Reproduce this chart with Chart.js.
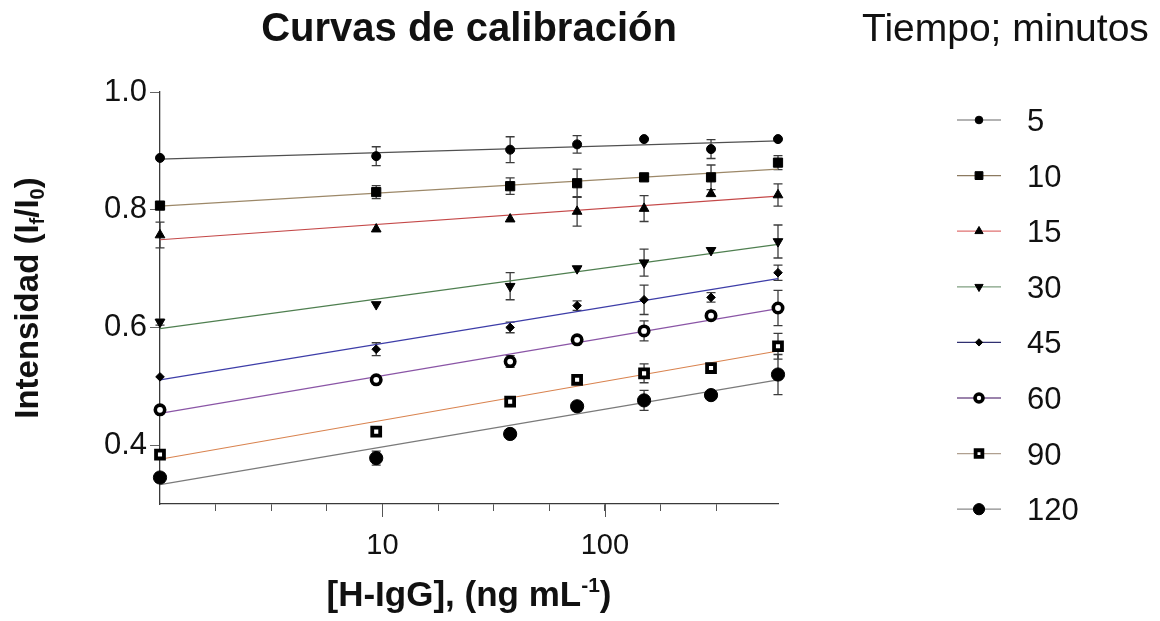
<!DOCTYPE html>
<html>
<head>
<meta charset="utf-8">
<title>Curvas de calibración</title>
<script src="https://cdn.jsdelivr.net/npm/chart.js@4.4.1/dist/chart.umd.min.js"></script>
<style>
    html, body { margin: 0; padding: 0; background: #ffffff; }
    canvas { display: block; }
</style>
</head>
<body>
<canvas id="curvas" width="1160" height="621"></canvas>
<script>
    // [H-IgG] en ng/mL (el blanco se grafica en 1)
    var concentraciones = [1, 9.375, 37.5, 75, 150, 300, 600];
    var tiempos = ['5', '10', '15', '30', '45', '60', '90', '120'];

    // intensidad If/I0 media y desviación por tiempo de incubación
    var int5 = [0.888, 0.891, 0.902, 0.911, 0.920, 0.903, 0.920];
    var err5 = [0, 0.016, 0.022, 0.015, 0, 0.016, 0];
    var int10 = [0.807, 0.830, 0.840, 0.845, 0.855, 0.855, 0.880];
    var err10 = [0.006, 0.011, 0.014, 0.024, 0, 0.021, 0.012];
    var int15 = [0.757, 0.767, 0.784, 0.797, 0.802, 0.827, 0.825];
    var err15 = [0.022, 0, 0, 0.025, 0.022, 0, 0.019];
    var int30 = [0.609, 0.639, 0.670, 0.700, 0.710, 0.731, 0.746];
    var err30 = [0.005, 0, 0.023, 0, 0.023, 0, 0.028];
    var int45 = [0.516, 0.563, 0.600, 0.637, 0.647, 0.651, 0.693];
    var err45 = [0, 0.011, 0.009, 0.008, 0.025, 0.008, 0.013];
    var int60 = [0.460, 0.511, 0.542, 0.579, 0.594, 0.620, 0.633];
    var err60 = [0, 0, 0.010, 0, 0.017, 0, 0.030];
    var int90 = [0.384, 0.423, 0.474, 0.511, 0.522, 0.531, 0.568];
    var err90 = [0.005, 0, 0, 0, 0.016, 0, 0.022];
    var int120 = [0.345, 0.378, 0.419, 0.466, 0.476, 0.485, 0.520];
    var err120 = [0.008, 0.012, 0, 0.008, 0.017, 0, 0.034];

    // rectas de regresión (log x): valor en el extremo izquierdo y derecho
    var ajusteInicio = [0.886, 0.806, 0.749, 0.598, 0.511, 0.454, 0.376, 0.333];
    var ajusteFin = [0.917, 0.869, 0.823, 0.741, 0.683, 0.632, 0.560, 0.511];

    var ticksY = [0.4, 0.6, 0.8, 1.0];
    var ticksX = [1.778, 3.162, 5.623, 10, 17.78, 31.62, 56.23, 100, 177.8, 316.2];
    var etiquetasX = [10, 100];

    var intensidades = [int5, int10, int15, int30, int45, int60, int90, int120];
    var errores = [err5, err10, err15, err30, err45, err60, err90, err120];

    var FUENTE = '"Liberation Sans", Arial, Helvetica, sans-serif';
    var TEXTO = '#111111';

    // marcador y color de recta de cada serie
    var estilos = [
        { forma: 'circle', radio: 4.5, relleno: '#000', borde: 1, rot: 0, color: '#505050', leyenda: '#9a9a9a' },
        { forma: 'rect', radio: 6.5, relleno: '#000', borde: 1, rot: 0, color: '#9c8868', leyenda: '#8c7a60' },
        { forma: 'triangle', radio: 5.6, relleno: '#000', borde: 1, rot: 0, color: '#c44848', leyenda: '#e07272' },
        { forma: 'triangle', radio: 5.6, relleno: '#000', borde: 1, rot: 180, color: '#4f7f50', leyenda: '#7f9f80' },
        { forma: 'rectRot', radio: 4.3, relleno: '#000', borde: 1, rot: 0, color: '#3d3da8', leyenda: '#303070' },
        { forma: 'circle', radio: 4.7, relleno: '#fff', borde: 3.6, rot: 0, color: '#8a55a6', leyenda: '#7a5a90' },
        { forma: 'rect', radio: 5.6, relleno: '#fff', borde: 3.8, rot: 0, color: '#d9834f', leyenda: '#b0a090' },
        { forma: 'circle', radio: 6.6, relleno: '#000', borde: 1, rot: 0, color: '#7a7a7a', leyenda: '#8a8a8a' }
    ];

    var datasets = [];

    // rectas de ajuste (debajo de los puntos)
    tiempos.forEach(function (t, s) {
        datasets.push({
            label: 'ajuste ' + t,
            data: [
                { x: concentraciones[0], y: ajusteInicio[s] },
                { x: concentraciones[concentraciones.length - 1], y: ajusteFin[s] }
            ],
            showLine: true,
            borderColor: estilos[s].color,
            borderWidth: 1.2,
            pointRadius: 0,
            pointHoverRadius: 0,
            clip: false,
            order: 2
        });
    });

    // puntos experimentales
    tiempos.forEach(function (t, s) {
        datasets.push({
            label: t,
            data: concentraciones.map(function (c, i) {
                return { x: c, y: intensidades[s][i] };
            }),
            errores: errores[s],
            showLine: false,
            pointStyle: estilos[s].forma,
            pointRadius: estilos[s].radio,
            pointHoverRadius: estilos[s].radio,
            pointRotation: estilos[s].rot,
            pointBackgroundColor: estilos[s].relleno,
            pointBorderColor: '#000',
            pointBorderWidth: estilos[s].borde,
            pointHoverBorderWidth: estilos[s].borde,
            clip: false,
            order: 1
        });
    });

    function textoCompuesto(ctx, partes, x, y, centrado) {
        var ancho = 0;
        partes.forEach(function (p) {
            ctx.font = p.fuente;
            p.w = ctx.measureText(p.t).width;
            ancho += p.w;
        });
        var cx = centrado ? x - ancho / 2 : x;
        partes.forEach(function (p) {
            ctx.font = p.fuente;
            ctx.fillText(p.t, cx, y + (p.dy || 0));
            cx += p.w;
        });
    }

    var decorado = {
        id: 'decorado',
        // barras de error, antes que marcadores
        beforeDatasetsDraw: function (chart) {
            var ctx = chart.ctx, xs = chart.scales.x, ys = chart.scales.y;
            ctx.save();
            ctx.strokeStyle = '#3c3c3c';
            ctx.lineWidth = 1.3;
            chart.data.datasets.forEach(function (ds) {
                if (!ds.errores) return;
                ds.data.forEach(function (p, i) {
                    var e = ds.errores[i];
                    if (!e) return;
                    var px = xs.getPixelForValue(p.x);
                    var y1 = ys.getPixelForValue(p.y + e);
                    var y2 = ys.getPixelForValue(p.y - e);
                    ctx.beginPath();
                    ctx.moveTo(px, y1); ctx.lineTo(px, y2);
                    ctx.moveTo(px - 4.5, y1); ctx.lineTo(px + 4.5, y1);
                    ctx.moveTo(px - 4.5, y2); ctx.lineTo(px + 4.5, y2);
                    ctx.stroke();
                });
            });
            ctx.restore();
        },
        afterDraw: function (chart) {
            var ctx = chart.ctx, area = chart.chartArea, xs = chart.scales.x;
            var centro = (area.left + area.right) / 2;
            ctx.save();
            ctx.fillStyle = TEXTO;
            ctx.textAlign = 'left';
            ctx.textBaseline = 'alphabetic';

            // marcas mayores del eje x
            ctx.strokeStyle = '#555';
            ctx.lineWidth = 1;
            etiquetasX.forEach(function (v) {
                var px = Math.round(xs.getPixelForValue(v)) + 0.5;
                ctx.beginPath();
                ctx.moveTo(px, area.bottom);
                ctx.lineTo(px, area.bottom + 13);
                ctx.stroke();
            });

            // título
            ctx.font = 'bold 40px ' + FUENTE;
            ctx.textAlign = 'center';
            ctx.fillText('Curvas de calibración', centro, 41);
            ctx.textAlign = 'left';

            // título eje x
            textoCompuesto(ctx, [
                { t: '[H-IgG], (ng mL', fuente: 'bold 35px ' + FUENTE },
                { t: '-1', fuente: 'bold 21px ' + FUENTE, dy: -14 },
                { t: ')', fuente: 'bold 35px ' + FUENTE }
            ], centro, 606, true);

            // título eje y
            ctx.save();
            ctx.translate(38, (area.top + area.bottom) / 2);
            ctx.rotate(-Math.PI / 2);
            textoCompuesto(ctx, [
                { t: 'Intensidad (I', fuente: 'bold 33px ' + FUENTE },
                { t: 'f', fuente: 'bold 20px ' + FUENTE, dy: 6 },
                { t: '/I', fuente: 'bold 33px ' + FUENTE },
                { t: '0', fuente: 'bold 20px ' + FUENTE, dy: 6 },
                { t: ')', fuente: 'bold 33px ' + FUENTE }
            ], 0, 0, true);
            ctx.restore();

            // leyenda
            ctx.font = '39px ' + FUENTE;
            ctx.fillText('Tiempo; minutos', 862, 41);
            ctx.font = '31px ' + FUENTE;
            tiempos.forEach(function (t, s) {
                var y = 120 + s * 55.6;
                var est = estilos[s];
                ctx.strokeStyle = est.leyenda;
                ctx.lineWidth = 1.3;
                ctx.beginPath();
                ctx.moveTo(957, y); ctx.lineTo(1001, y);
                ctx.stroke();
                ctx.fillStyle = est.relleno;
                ctx.strokeStyle = '#000';
                ctx.lineWidth = est.borde;
                Chart.helpers.drawPoint(ctx, {
                    pointStyle: est.forma,
                    radius: est.radio * 0.85,
                    rotation: est.rot,
                    borderWidth: est.borde
                }, 979, y);
                ctx.fillStyle = TEXTO;
                ctx.fillText(t, 1027, y + 11);
            });
            ctx.restore();
        }
    };

    new Chart(document.getElementById('curvas'), {
        type: 'scatter',
        data: { datasets: datasets },
        options: {
            responsive: false,
            animation: false,
            devicePixelRatio: 1,
            layout: { padding: { top: 92, right: 382, bottom: 0, left: 0 } },
            plugins: {
                legend: { display: false },
                title: { display: false },
                tooltip: { enabled: false }
            },
            scales: {
                x: {
                    type: 'logarithmic',
                    position: 'bottom',
                    min: 1,
                    max: 600,
                    afterBuildTicks: function (scale) {
                        scale.ticks = ticksX.map(function (v) { return { value: v }; });
                    },
                    afterFit: function (scale) { scale.height = 117; },
                    ticks: {
                        autoSkip: false,
                        maxRotation: 0,
                        padding: 18,
                        color: TEXTO,
                        font: { family: FUENTE, size: 29 },
                        callback: function (v) {
                            return etiquetasX.indexOf(v) >= 0 ? String(v) : '';
                        }
                    },
                    grid: { drawOnChartArea: false, tickLength: 7, color: '#555', lineWidth: 1 },
                    border: { color: '#3a3a3a', width: 1.3 }
                },
                y: {
                    type: 'linear',
                    min: 0.3,
                    max: 1.0,
                    afterBuildTicks: function (scale) {
                        scale.ticks = ticksY.map(function (v) { return { value: v }; });
                    },
                    afterFit: function (scale) { scale.width = 160; },
                    ticks: {
                        padding: 3,
                        color: TEXTO,
                        font: { family: FUENTE, size: 31 },
                        callback: function (v) { return v.toFixed(1); }
                    },
                    grid: { drawOnChartArea: false, tickLength: 10, color: '#666', lineWidth: 1 },
                    border: { color: '#3a3a3a', width: 1.3 }
                }
            }
        },
        plugins: [decorado]
    });
</script>
</body>
</html>
